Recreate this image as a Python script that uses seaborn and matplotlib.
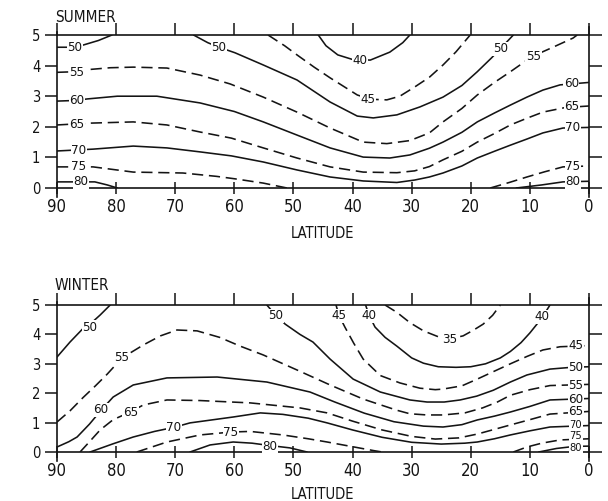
import matplotlib
matplotlib.use("Agg")
import matplotlib.pyplot as plt
import pandas as pd
import seaborn as sns

# ---------------- data: contour lines (latitude, height) ----------------
# SUMMER
s50_a = [(90, 4.6), (87, 4.6), (85.6, 4.67), (83, 4.82), (80.7, 5.0)]
s50_b = [(66.9, 5.0), (64.5, 4.75), (62.6, 4.6), (59.9, 4.42), (55.1, 4.02), (49.4, 3.53),
         (43.8, 2.81), (39.2, 2.35), (36.5, 2.29), (32.5, 2.39), (28.6, 2.65), (24.7, 2.97),
         (21.5, 3.35), (18.9, 3.8), (16.5, 4.25), (15, 4.55), (12.8, 5.0)]
s40 = [(45.8, 5.0), (44.5, 4.65), (42.5, 4.35), (40, 4.2), (37, 4.18), (33.7, 4.44),
       (31.5, 4.75), (30.3, 5.0)]
s45 = [(54.3, 5.0), (51.5, 4.65), (49.4, 4.35), (46.5, 3.95), (43.8, 3.6), (39.2, 3.04),
       (37, 2.9), (34.2, 2.88), (32, 3.0), (29.5, 3.3), (27, 3.62), (24.7, 4.02),
       (22.5, 4.45), (20.1, 5.0)]
s55 = [(90, 3.78), (87, 3.8), (85.3, 3.86), (81, 3.93), (77.1, 3.95), (71.4, 3.92),
       (65.8, 3.69), (60.7, 3.4), (55.1, 2.97), (49.4, 2.48), (43.8, 1.96), (38.2, 1.5),
       (34.2, 1.45), (30.3, 1.55), (27, 1.8), (24.7, 2.16), (21.5, 2.6), (18.9, 3.04),
       (16, 3.45), (13.3, 3.8), (9.6, 4.3), (6.1, 4.6), (2.7, 4.9), (2.0, 5.0)]
s60 = [(90, 2.84), (87, 2.86), (84.9, 2.91), (79.8, 3.0), (73.1, 3.0), (65.8, 2.78),
       (60, 2.5), (55.1, 2.16), (49.4, 1.73), (43.8, 1.31), (38.2, 1.01), (33.7, 0.98),
       (30.3, 1.08), (27, 1.3), (24.7, 1.5), (21.5, 1.82), (18.9, 2.16), (16, 2.45),
       (13.3, 2.71), (10.5, 2.97), (7.8, 3.2), (4.9, 3.37), (0, 3.45)]
s65 = [(90, 2.06), (84.4, 2.12), (77.1, 2.16), (71.4, 2.06), (65.8, 1.83), (60.5, 1.63),
       (55.1, 1.31), (49.4, 0.98), (43.8, 0.69), (38.2, 0.52), (32.5, 0.5), (29.5, 0.56),
       (27, 0.7), (24.7, 0.92), (21.5, 1.2), (18.9, 1.5), (16, 1.78), (13.3, 2.06),
       (10.5, 2.28), (7.8, 2.48), (4, 2.63), (0, 2.68)]
s70 = [(90, 1.21), (83.9, 1.27), (77.1, 1.37), (71.4, 1.31), (65.8, 1.18), (60.5, 1.05),
       (55.1, 0.85), (49.4, 0.59), (43.8, 0.36), (38.2, 0.23), (32.5, 0.18), (29.5, 0.26),
       (27, 0.36), (24.7, 0.49), (21.5, 0.72), (18.9, 0.98), (16, 1.2), (13.3, 1.4),
       (10.5, 1.6), (7.8, 1.8), (4.4, 1.96), (0, 1.98)]
s75_a = [(90, 0.69), (83.9, 0.69), (77.1, 0.52), (68.7, 0.49), (63, 0.38), (59.9, 0.3),
         (55.1, 0.16), (51.1, 0.0)]
s75_b = [(16.7, 0.0), (13.5, 0.18), (10.5, 0.36), (7.5, 0.53), (4.4, 0.69), (0, 0.72)]
s80_a = [(90, 0.2), (83.6, 0.2), (81.5, 0.1), (79.8, 0.0)]
s80_b = [(12.3, 0.0), (8, 0.1), (4.4, 0.2), (0, 0.22)]

# WINTER
w50_a = [(90, 3.23), (87.8, 3.74), (85.6, 4.2), (84.4, 4.35), (82.7, 4.66), (81, 5.0)]
w50_b = [(54.5, 5.0), (53, 4.65), (51.4, 4.35), (48.9, 4.0), (46.7, 3.74), (43.8, 3.16),
         (39.9, 2.48), (35.3, 2.04), (30.3, 1.77), (27.4, 1.7), (24.5, 1.7), (21.8, 1.77),
         (19, 1.9), (16.2, 2.1), (13.3, 2.38), (10.5, 2.62), (6.6, 2.82), (3, 2.88), (0, 2.9)]
w45 = [(42.8, 5.0), (42.3, 4.65), (41.3, 4.25), (39.8, 3.7), (38.2, 3.16), (35.3, 2.6),
       (32, 2.35), (28.6, 2.17), (26, 2.12), (24.7, 2.14), (21.5, 2.25), (18.9, 2.48),
       (16, 2.75), (13.3, 3.0), (10.5, 3.25), (7.8, 3.47), (4.9, 3.58), (0, 3.62)]
w40_a = [(37.8, 5.0), (37.2, 4.65), (36.2, 4.25), (34.5, 3.9), (32.5, 3.6), (30, 3.2),
         (28, 3.02), (25.5, 2.9), (22.5, 2.88), (20, 2.9), (17.5, 3.0), (15, 3.2),
         (13.3, 3.42), (11.5, 3.72), (10, 4.05), (8, 4.55), (6.6, 5.0)]
w35 = [(34.5, 5.0), (32.5, 4.75), (30.3, 4.4), (28, 4.12), (25.5, 3.92), (23.5, 3.85),
       (21.3, 3.95), (19.5, 4.15), (17.9, 4.35), (16.3, 4.65), (15, 5.0)]
w55 = [(90, 1.02), (87.8, 1.4), (85.6, 1.85), (83.5, 2.25), (81.5, 2.65), (79, 3.2),
       (75.4, 3.64), (72.5, 3.95), (69.7, 4.15), (66.3, 4.12), (62.5, 3.9), (59, 3.6),
       (55.1, 3.3), (49.4, 2.79), (43.8, 2.28), (38.2, 1.8), (32.5, 1.42), (30.3, 1.3),
       (27.4, 1.26), (24.7, 1.26), (21, 1.33), (18, 1.5), (15.5, 1.7), (13.3, 1.93),
       (10, 2.12), (6.6, 2.26), (0, 2.3)]
w60 = [(90, 0.17), (88, 0.35), (86.6, 0.51), (84.5, 0.95), (82.5, 1.43), (80.5, 1.87),
       (77.1, 2.28), (71.4, 2.52), (62.9, 2.55), (54.5, 2.38), (47.2, 2.04), (43, 1.7),
       (38, 1.32), (33, 1.03), (28, 0.88), (24.7, 0.85), (21.5, 0.93), (18.9, 1.09),
       (16, 1.22), (13.3, 1.36), (10, 1.55), (6.6, 1.77), (0, 1.82)]
w65 = [(86.1, 0.0), (84.5, 0.35), (82.7, 0.75), (80.5, 1.1), (77.6, 1.36), (75.4, 1.6),
       (71.4, 1.77), (65.8, 1.75), (57.3, 1.67), (48.9, 1.5), (44.3, 1.33), (40, 1.05),
       (35, 0.75), (30, 0.53), (26, 0.44), (22, 0.48), (18.9, 0.61), (16, 0.77),
       (13.3, 0.92), (10, 1.1), (6.6, 1.29), (0, 1.38)]
w70 = [(84.4, 0.0), (80.5, 0.28), (77.1, 0.51), (73.5, 0.7), (70.2, 0.84), (67.5, 0.99),
       (60.2, 1.19), (55.6, 1.33), (51.8, 1.28), (47.5, 1.15), (44.3, 0.99), (40, 0.75),
       (35, 0.5), (30, 0.33), (25, 0.27), (21, 0.3), (18.9, 0.34), (16, 0.45),
       (13.3, 0.58), (10, 0.72), (6.6, 0.85), (0, 0.9)]
w75_a = [(76.5, 0.0), (73.5, 0.2), (71.4, 0.34), (65.8, 0.58), (60.5, 0.68), (57.3, 0.7),
         (51.8, 0.58), (47.5, 0.45), (44.3, 0.34), (40, 0.18), (36.5, 0.05), (35, 0.0)]
w75_b = [(12.8, 0.0), (10.5, 0.17), (8, 0.3), (4.9, 0.41), (0, 0.45)]
w80_a = [(67.5, 0.0), (64.1, 0.24), (60.2, 0.34), (57, 0.3), (54, 0.22), (50.6, 0.14),
         (47.7, 0.0)]
w80_b = [(8.5, 0.0), (5.5, 0.12), (2.5, 0.19), (0, 0.2)]

summer_lines = [(50, s50_a), (50, s50_b), (40, s40), (45, s45), (55, s55), (60, s60),
                (65, s65), (70, s70), (75, s75_a), (75, s75_b), (80, s80_a), (80, s80_b)]
winter_lines = [(50, w50_a), (50, w50_b), (45, w45), (40, w40_a), (35, w35), (55, w55),
                (60, w60), (65, w65), (70, w70), (75, w75_a), (75, w75_b), (80, w80_a),
                (80, w80_b)]

# contour labels: (text, latitude, height)
summer_labels = [("50", 87, 4.6), ("55", 86.6, 3.79), ("60", 86.6, 2.86), ("65", 86.6, 2.07),
                 ("70", 86.3, 1.23), ("75", 86.3, 0.69), ("80", 85.9, 0.2),
                 ("50", 62.6, 4.6), ("40", 38.7, 4.18), ("45", 37.4, 2.88),
                 ("50", 15.0, 4.55), ("55", 9.4, 4.31),
                 ("60", 3.0, 3.43), ("65", 2.9, 2.66), ("70", 2.7, 1.97),
                 ("75", 2.7, 0.7), ("80", 2.7, 0.21)]
winter_labels = [("50", 84.4, 4.25), ("55", 79.0, 3.23), ("60", 82.6, 1.43), ("65", 77.6, 1.36),
                 ("70", 70.2, 0.83), ("75", 60.6, 0.68), ("80", 54.0, 0.2),
                 ("50", 53.0, 4.63), ("45", 42.3, 4.63), ("40", 37.2, 4.63),
                 ("35", 23.5, 3.83), ("40", 7.9, 4.6),
                 ("45", 2.2, 3.62), ("50", 2.2, 2.88), ("55", 2.2, 2.26), ("60", 2.2, 1.8),
                 ("65", 2.2, 1.37), ("70", 2.2, 0.93), ("75", 2.2, 0.53), ("80", 2.2, 0.13)]

lat_ticks = [90, 80, 70, 60, 50, 40, 30, 20, 10, 0]
height_ticks = [0, 1, 2, 3, 4, 5]

# ---------------- drawing ----------------
sns.set_theme(style="white")
FAM = ["DejaVu Sans", "Liberation Sans"]
plt.rcParams["font.family"] = FAM
plt.rcParams["font.stretch"] = "condensed"
INK = "#141414"

fig = plt.figure(figsize=(6.08, 5.01), dpi=100)
W, H = 608, 501
ax_s = fig.add_axes([57 / W, 1 - 188 / H, 532 / W, 153 / H])
ax_w = fig.add_axes([57 / W, 1 - 452 / H, 532 / W, 147 / H])


def draw_panel(ax, lines, labels, crowded=False):
    for level, pts in lines:
        df = pd.DataFrame(pts, columns=["lat", "h"])
        ls = (0, (7, 3.6)) if level % 10 == 5 else "-"
        sns.lineplot(data=df, x="lat", y="h", sort=False, estimator=None, ax=ax,
                     color=INK, lw=1.15, linestyle=ls)
    for txt, x, y in labels:
        small = crowded and x < 5 and y < 1.0
        ax.text(x, y, txt, ha="center", va="center", fontsize=8 if small else 9.5,
                color=INK, family=FAM, fontstretch="condensed", zorder=5,
                bbox=dict(boxstyle="square,pad=0.05", fc="white", ec="none"))
    ax.set_xlim(90, 0)
    ax.set_ylim(0, 5)
    ax.set_xticks(lat_ticks)
    ax.set_xticklabels([str(v) for v in lat_ticks])
    ax.set_yticks(height_ticks)
    ax.set_yticklabels([str(v) for v in height_ticks])
    ax.set_xlabel("")
    ax.set_ylabel("")
    for side in ["top", "bottom", "left", "right"]:
        ax.spines[side].set_visible(True)
        ax.spines[side].set_color(INK)
        ax.spines[side].set_linewidth(1.2)
    ax.spines["right"].set_bounds(-0.3, 5.25)
    ax.spines["left"].set_bounds(-0.3, 5.1)
    ax.tick_params(axis="x", bottom=True, top=True, direction="inout", length=9,
                   width=1.1, color=INK, labelsize=12, labelcolor=INK, pad=3)
    for t in ax.xaxis.get_major_ticks():
        t.tick2line.set_marker(2)  # top ticks point upward only
        t.tick2line.set_markersize(9)
    ax.tick_params(axis="y", left=True, right=True, direction="out", length=9,
                   width=1.1, color=INK, labelsize=10.5, labelcolor=INK, pad=3)
    ax.grid(False)
    ax.set_facecolor("white")


draw_panel(ax_s, summer_lines, summer_labels)
draw_panel(ax_w, winter_lines, winter_labels, crowded=True)

for txt, y in (("SUMMER", 22), ("WINTER", 290)):
    fig.text(55 / W, 1 - y / H, txt, ha="left", va="baseline", fontsize=11,
             color=INK, family=FAM, fontstretch="condensed")
for y in (238, 499):
    fig.text(323 / W, 1 - y / H, "LATITUDE", ha="center", va="baseline", fontsize=10.5,
             color=INK, family=FAM, fontstretch="condensed")

fig.savefig("out.png", dpi=100, facecolor="white")
